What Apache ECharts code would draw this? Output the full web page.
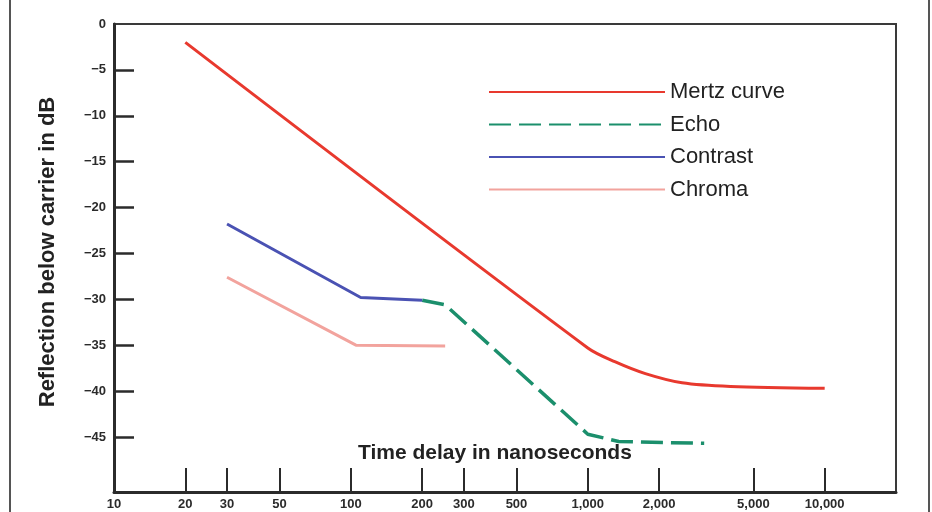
<!DOCTYPE html>
<html>
<head>
<meta charset="utf-8">
<script src="https://cdn.jsdelivr.net/npm/echarts@6/dist/echarts.min.js"></script>
<style>
    html, body { margin: 0; padding: 0; background: #fff; }
    #chart { width: 932px; height: 512px; }
</style>
</head>
<body>
<div id="chart"></div>
<script>
// tick positions / labels
var xTicks = [20, 30, 50, 100, 200, 300, 500, 1000, 2000, 5000, 10000];
var xLabels = [10, 20, 30, 50, 100, 200, 300, 500, 1000, 2000, 5000, 10000];
var yTicks = [-5, -10, -15, -20, -25, -30, -35, -40, -45];
var yLabels = [0, -5, -10, -15, -20, -25, -30, -35, -40, -45];

// [time delay ns, reflection dB]
var mertzCurve = [[20, -2], [1000, -35.3], [1300, -36.8], [1750, -38.1], [2500, -39.1], [4000, -39.5], [10000, -39.7]];
var echo = [[200, -30.1], [250, -30.6], [1000, -44.7], [1350, -45.5], [3100, -45.7]];
var contrast = [[30, -21.8], [110, -29.8], [200, -30.1]];
var chroma = [[30, -27.6], [105, -35], [250, -35.1]];

var font = '"Liberation Sans", Arial, sans-serif';
var ink = '#2b2b2b';

function fmtX(v) {
    return String(Math.round(v)).replace(/\B(?=(\d{3})+(?!\d))/g, ',');
}
function fmtY(v) {
    return v === 0 ? '0' : '\u2212' + Math.abs(v);
}

window.onload = function () {
    var chart = echarts.init(document.getElementById('chart'));

    var option = {
        animation: false,
        title: {
            text: 'Time delay in nanoseconds',
            left: 358,
            top: 443,
            padding: 0,
            textStyle: { fontSize: 21, fontWeight: 'bold', color: '#222', fontFamily: font }
        },
        grid: {
            left: 114, right: 36, top: 24, bottom: 20,
            outerBoundsMode: 'none',
            containLabel: false,
            show: true,
            borderColor: '#3a3a3a',
            borderWidth: 2
        },
        legend: {
            orient: 'vertical',
            left: 483,
            top: 76,
            itemWidth: 176,
            itemHeight: 22,
            itemGap: 10.5,
            data: ['Mertz curve', 'Echo', 'Contrast', 'Chroma'],
            itemStyle: { opacity: 0 },
            textStyle: { fontSize: 22, color: '#222', fontFamily: font }
        },
        xAxis: {
            type: 'log',
            logBase: 10,
            min: 10,
            max: 20000,
            axisLine: { onZero: false, lineStyle: { color: ink, width: 3 } },
            axisTick: { show: true, inside: true, length: 24, customValues: xTicks, lineStyle: { color: ink, width: 2 } },
            axisLabel: {
                customValues: xLabels,
                formatter: fmtX,
                margin: 6,
                fontSize: 13, fontWeight: 'bold', color: ink, fontFamily: font
            },
            splitLine: { show: false },
            minorTick: { show: false }
        },
        yAxis: {
            type: 'value',
            min: -51,
            max: 0,
            name: 'Reflection below carrier in dB',
            nameLocation: 'middle',
            nameGap: 55,
            nameTextStyle: { fontSize: 22, fontWeight: 'bold', color: '#222', fontFamily: font, padding: [0, 0, 0, 12] },
            axisLine: { show: true, onZero: false, lineStyle: { color: ink, width: 3 } },
            axisTick: { show: true, inside: true, length: 20, customValues: yTicks, lineStyle: { color: ink, width: 2.5 } },
            axisLabel: {
                customValues: yLabels,
                formatter: fmtY,
                margin: 8,
                fontSize: 13, fontWeight: 'bold', color: ink, fontFamily: font
            },
            splitLine: { show: false }
        },
        series: [
            {
                name: 'Mertz curve',
                type: 'line',
                data: mertzCurve,
                symbol: 'none',
                smooth: 0.3,
                lineStyle: { color: '#e8392e', width: 3 },
                itemStyle: { color: '#e8392e' }
            },
            {
                name: 'Echo',
                type: 'line',
                data: echo,
                symbol: 'none',
                lineStyle: { color: '#1b8f6c', width: 3.5, type: [22, 8] },
                itemStyle: { color: '#1b8f6c' }
            },
            {
                name: 'Contrast',
                type: 'line',
                data: contrast,
                symbol: 'none',
                lineStyle: { color: '#4a52b3', width: 3 },
                itemStyle: { color: '#4a52b3' }
            },
            {
                name: 'Chroma',
                type: 'line',
                data: chroma,
                symbol: 'none',
                lineStyle: { color: '#f2a39d', width: 3 },
                itemStyle: { color: '#f2a39d' }
            }
        ],
        graphic: [
            { type: 'line', shape: { x1: 10, y1: 0, x2: 10, y2: 512 }, style: { stroke: '#555', lineWidth: 2 } },
            { type: 'line', shape: { x1: 929, y1: 0, x2: 929, y2: 512 }, style: { stroke: '#555', lineWidth: 2 } }
        ]
    };

    chart.setOption(option);
};
</script>
</body>
</html>
